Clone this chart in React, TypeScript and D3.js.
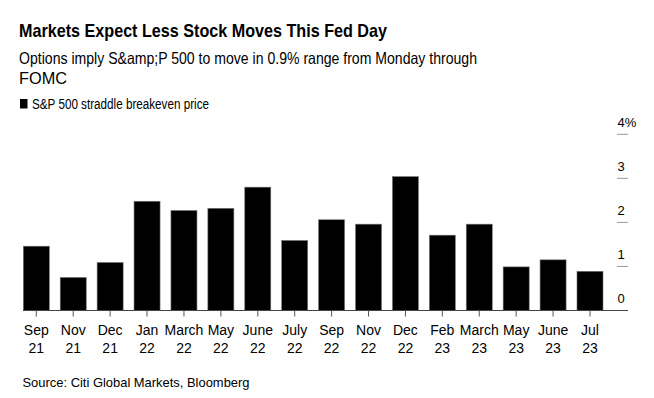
import React from "react";
import * as d3 from "d3";

const monthLabels = ["Sep", "Nov", "Dec", "Jan", "March", "May", "June", "July", "Sep", "Nov", "Dec", "Feb", "March", "May", "June", "Jul"];
const yearLabels = ["21", "21", "21", "22", "22", "22", "22", "22", "22", "22", "22", "23", "23", "23", "23", "23"];
const breakeven = [1.46, 0.75, 1.09, 2.48, 2.27, 2.32, 2.8, 1.59, 2.06, 1.96, 3.04, 1.71, 1.96, 0.99, 1.15, 0.89];
const yTicks = [0, 1, 2, 3, 4];

const W = 654;
const H = 398;
const FONT = "'Liberation Sans', Arial, Helvetica, sans-serif";

export default function App() {
  const keys = monthLabels.map((m, i) => `${m}-${yearLabels[i]}-${i}`);
  const x = d3.scaleBand<string>().domain(keys).range([23.3, 603]).paddingInner(0.295).paddingOuter(0);
  const y = d3.scaleLinear().domain([0, 4]).range([310.5, 134.3]);

  return (
    <div style={{ position: "absolute", left: 0, top: 0 }}>
      <svg width={W} height={H} style={{ display: "block", background: "#fff" }} fontFamily={FONT}>
        <text x={19} y={37} fontSize={18.5} fontWeight="bold" fill="#000" textLength={368} lengthAdjust="spacingAndGlyphs">
          Markets Expect Less Stock Moves This Fed Day
        </text>
        <text x={19} y={64} fontSize={16.5} fill="#000" textLength={458} lengthAdjust="spacingAndGlyphs">
          Options imply S&amp;amp;P 500 to move in 0.9% range from Monday through
        </text>
        <text x={19} y={83.5} fontSize={16.5} fill="#000" textLength={48} lengthAdjust="spacingAndGlyphs">
          FOMC
        </text>
        <rect x={20} y={99} width={7.5} height={9.5} fill="#000" />
        <text x={32} y={108.5} fontSize={14} fill="#000" textLength={177} lengthAdjust="spacingAndGlyphs">
          S&amp;P 500 straddle breakeven price
        </text>

        {yTicks.map((t) => (
          <g key={t}>
            {t > 0 && <line x1={617} x2={628} y1={y(t)} y2={y(t)} stroke="#999" strokeWidth={1} />}
            <text x={617.5} y={y(t) - 7.5} fontSize={13} fill="#000">
              {t === 4 ? "4%" : String(t)}
            </text>
          </g>
        ))}

        {breakeven.map((v, i) => (
          <rect
            key={keys[i]}
            x={x(keys[i])}
            y={y(v)}
            width={x.bandwidth()}
            height={y(0) - y(v)}
            fill="#000"
            stroke="#777"
            strokeWidth={0.6}
          />
        ))}

        <line x1={23} x2={628} y1={y(0)} y2={y(0)} stroke="#444" strokeWidth={1.2} />

        {keys.map((k, i) => {
          const cx = (x(k) as number) + x.bandwidth() / 2;
          return (
            <g key={k}>
              <line x1={cx} x2={cx} y1={y(0)} y2={y(0) + 6} stroke="#555" strokeWidth={1} />
              <text x={cx} y={335} fontSize={14} textAnchor="middle" fill="#000">
                {monthLabels[i]}
              </text>
              <text x={cx} y={352.5} fontSize={14} textAnchor="middle" fill="#000">
                {yearLabels[i]}
              </text>
            </g>
          );
        })}

        <text x={22.5} y={386.5} fontSize={13} fill="#000" textLength={227} lengthAdjust="spacingAndGlyphs">
          Source: Citi Global Markets, Bloomberg
        </text>
      </svg>
    </div>
  );
}
